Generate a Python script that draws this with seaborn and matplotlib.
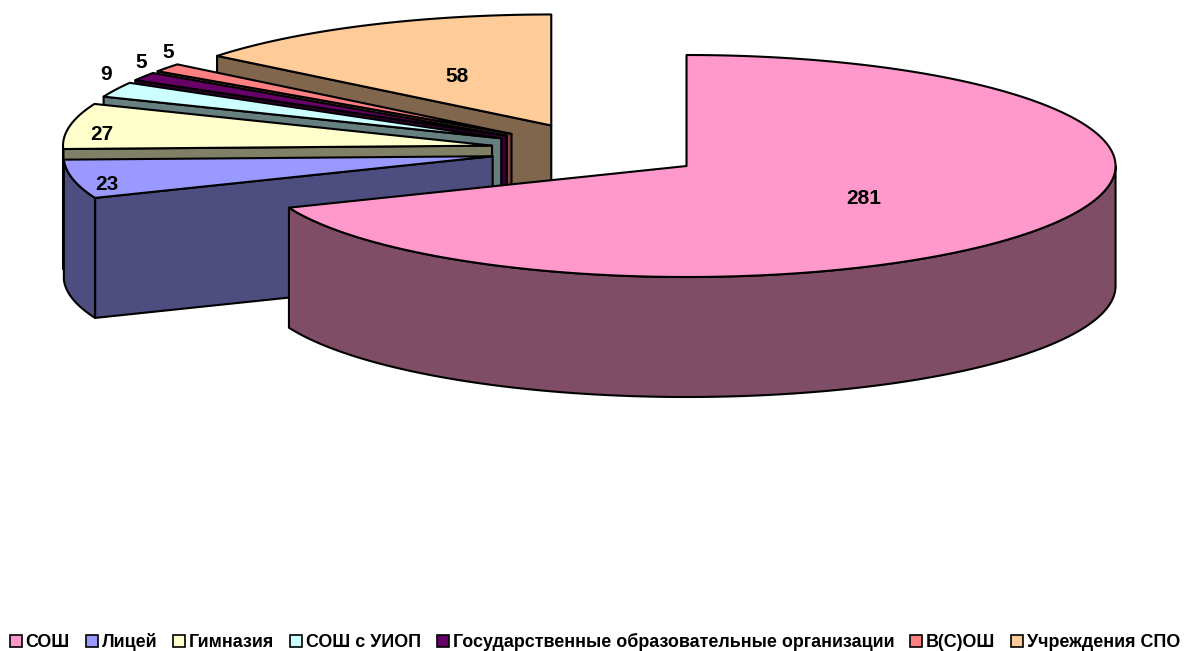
import numpy as np
import matplotlib
matplotlib.use("Agg")
import matplotlib.pyplot as plt
from matplotlib.patches import Patch
import seaborn as sns

# --- data ---
categories = ["СОШ", "Лицей", "Гимназия", "СОШ с УИОП",
              "Государственные образовательные организации", "В(С)ОШ", "Учреждения СПО"]
values = [281, 23, 27, 9, 5, 5, 58]
top_colors = ["#FF99CC", "#9999FF", "#FFFFCC", "#CCFFFF", "#660066", "#FF8080", "#FFCC99"]

# --- layout (pixels) ---
label_xy = [(864, 198), (107, 184), (102, 134), (106, 74), (141, 63), (168, 52), (457, 77)]
CX, CY, RX, RY, DEPTH, EXPLODE = 597.6, 150.5, 429, 111, 120, 0.25

sns.set_theme(style="white")
plt.rcParams["font.family"] = ["Liberation Sans", "DejaVu Sans"]
palette = sns.color_palette(top_colors)
side_colors = [tuple(c * 0.5 for c in col) for col in palette]

fig = plt.figure(figsize=(11.84, 6.51), dpi=100)
ax = fig.add_axes([0, 0, 1, 1])
ax.set_xlim(0, 1184)
ax.set_ylim(651, 0)
ax.axis("off")

fractions = np.array(values) / np.sum(values) * 360.0
ends = 90 - np.cumsum(fractions)
starts = ends + fractions


def rim(cx, cy, a0, a1, dz=0.0):
    t = np.radians(np.linspace(a0, a1, max(int(abs(a1 - a0) * 3), 2)))
    return cx + RX * np.cos(t), cy - RY * np.sin(t) + dz


lw = 1.5
z = 1
for i in range(len(values) - 1, -1, -1):
    a0, a1 = starts[i], ends[i]
    mid = np.radians((a0 + a1) / 2)
    cx = CX + EXPLODE * RX * np.cos(mid)
    cy = CY - EXPLODE * RY * np.sin(mid)
    kw = dict(edgecolor="black", linewidth=lw, joinstyle="round")

    # radial wall on the clockwise-leading edge: the only one facing the viewer
    x, y = rim(cx, cy, a0, a0)
    ax.fill([cx, x[0], x[0], cx], [cy, y[0], y[0] + DEPTH, cy + DEPTH],
            facecolor=side_colors[i], zorder=z, **kw)
    z += 1

    # outer wall: the part that faces the viewer (sin < 0)
    u0, u1 = max(a1, -180), min(a0, 0)
    if u1 > u0:
        x, y = rim(cx, cy, u0, u1)
        xb, yb = rim(cx, cy, u1, u0, DEPTH)
        ax.fill(np.r_[x, xb], np.r_[y, yb], facecolor=side_colors[i], zorder=z, **kw)
        z += 1

    # top
    x, y = rim(cx, cy, a0, a1)
    ax.fill(np.r_[cx, x], np.r_[cy, y], facecolor=palette[i], zorder=z, **kw)
    z += 1

for v, (lx, ly) in zip(values, label_xy):
    ax.text(lx, ly, str(v), ha="center", va="center", fontsize=15,
            fontweight="bold", color="black", zorder=100)

handles = [Patch(facecolor=c, edgecolor="black", linewidth=1.2) for c in palette]
fig.legend(handles, categories, loc="lower center", bbox_to_anchor=(0.5025, -0.014), ncols=7,
           frameon=False, prop={"size": 12.9, "weight": "bold"}, labelcolor="black",
           handlelength=0.67, handleheight=0.67, handletextpad=0.22, columnspacing=0.88,
           borderpad=0.3, borderaxespad=0.2)

fig.savefig("out.png", dpi=100)
